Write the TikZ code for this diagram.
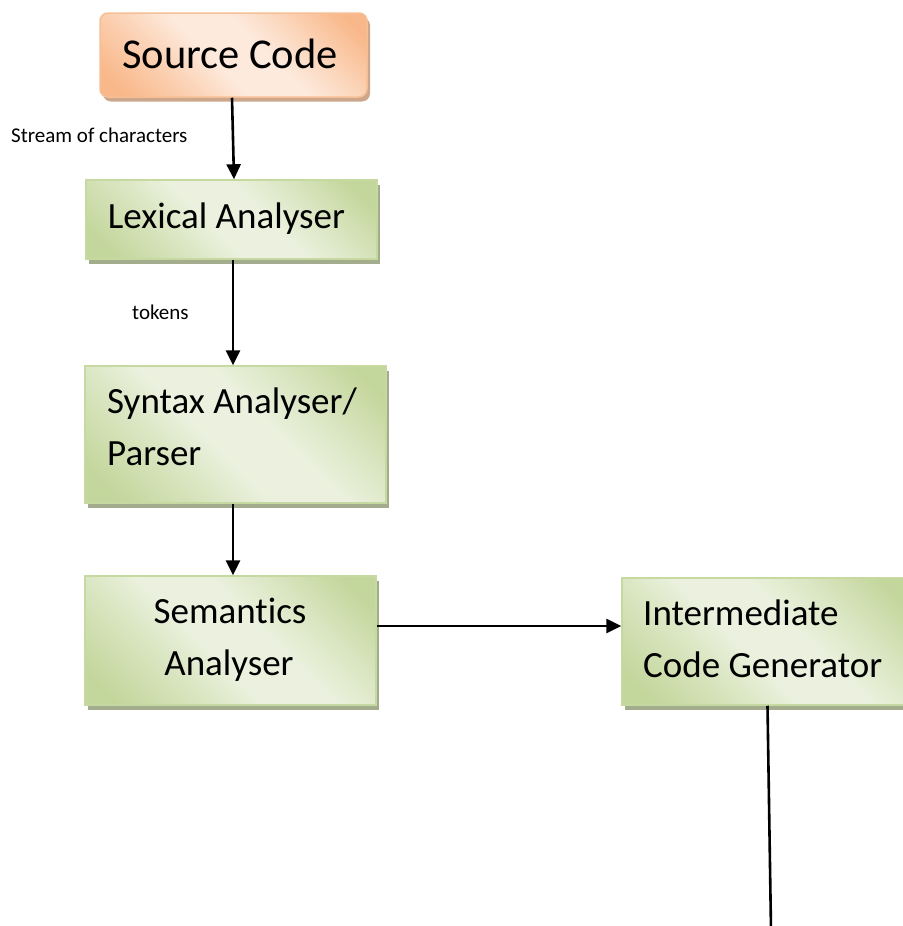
\documentclass[tikz,border=0pt]{standalone}
\usepackage{fontspec}
\setmainfont[Ligatures=NoCommon]{Carlito}
\usetikzlibrary{arrows.meta,shadows,calc}
\definecolor{gdark}{HTML}{C3D69B}
\definecolor{glight}{HTML}{EBF1DE}
\definecolor{gborder}{HTML}{C6D9A0}
\definecolor{gshadow}{HTML}{A3AC8D}
\definecolor{odark}{HTML}{F9B88A}
\definecolor{olight}{HTML}{FDEADD}
\definecolor{oborder}{HTML}{F6BE94}
\definecolor{oshadow}{HTML}{CDA78C}
\pgfdeclareverticalshading{gshade}{100bp}{color(0bp)=(gdark); color(20bp)=(gdark); color(36bp)=(gdark!40!glight); color(45bp)=(glight); color(57bp)=(glight); color(67bp)=(gdark!40!glight); color(80bp)=(gdark); color(100bp)=(gdark)}
\pgfdeclareverticalshading{oshade}{100bp}{color(0bp)=(odark); color(20bp)=(odark); color(36bp)=(odark!40!olight); color(45bp)=(olight); color(57bp)=(olight); color(67bp)=(odark!40!olight); color(80bp)=(odark); color(100bp)=(odark)}
\tikzset{
  greenbox/.style={draw=gborder, line width=1.5pt, shading=gshade, shading angle=-45,
    drop shadow={shadow xshift=3pt, shadow yshift=-4.5pt, fill=gshadow, opacity=1}, inner sep=0pt},
  orangebox/.style={draw=oborder, line width=1.5pt, rounded corners=8pt, shading=oshade, shading angle=-45,
    drop shadow={shadow xshift=3pt, shadow yshift=-4.5pt, fill=oshadow, opacity=1}, inner sep=0pt},
  boxtext/.style={font=\fontsize{37}{44}\selectfont, inner sep=0pt},
  lbl/.style={font=\fontsize{21}{25}\selectfont, inner sep=0pt},
  arr/.style={line width=2.6pt, -{Triangle[length=15pt,width=14pt]}},
  plain/.style={line width=2.6pt}
}
\begin{document}
\begin{tikzpicture}[x=1pt,y=-1pt]
\useasboundingbox (0,0) rectangle (902,926);
% boxes
\node[orangebox, minimum width=267pt, minimum height=84pt] (src) at (233.5,55) {};
\node[greenbox, minimum width=291pt, minimum height=79pt] (lex) at (231.5,219.5) {};
\node[greenbox, minimum width=301pt, minimum height=137pt] (syn) at (235.5,434.5) {};
\node[greenbox, minimum width=291pt, minimum height=129pt] (sem) at (230.5,640.5) {};
\node[greenbox, minimum width=291pt, minimum height=127pt] (int) at (767.5,641.5) {};
% texts
\node[boxtext, font=\fontsize{42.5}{50}\selectfont, anchor=base] (srct) at (230,68) {Source Code};
\node[boxtext, anchor=base] (lext) at (226.5,228) {Lexical Analyser};
\node[boxtext, anchor=base west] (synt1) at (107,413) {Syntax Analyser/};
\node[boxtext, anchor=base west] (synt2) at (107,465) {Parser};
\node[boxtext, anchor=base] (semt1) at (230,623) {Semantics};
\node[boxtext, anchor=base] (semt2) at (229,675) {Analyser};
\node[boxtext, anchor=base west] (intt1) at (643,625) {Intermediate};
\node[boxtext, anchor=base west] (intt2) at (643,677) {Code Generator};
\node[lbl, anchor=base west] (l1) at (11,142) {Stream of characters};
\node[lbl, anchor=base west] (l2) at (132,319) {tokens};
% connectors
\draw[arr] ([xshift=-1.5pt]src.south) -- ([xshift=2.5pt]lex.north);
\draw[arr] ([xshift=1.5pt]lex.south) -- ([xshift=-2.5pt]syn.north);
\draw[arr] ([xshift=-2.5pt]syn.south) -- ([xshift=2.5pt]sem.north);
\draw[arr] (sem.east |- 0,626) -- (int.west |- 0,626);
\coordinate (endp) at (771,930);
\draw[plain] (int.south) -- (endp);
\end{tikzpicture}
\end{document}
